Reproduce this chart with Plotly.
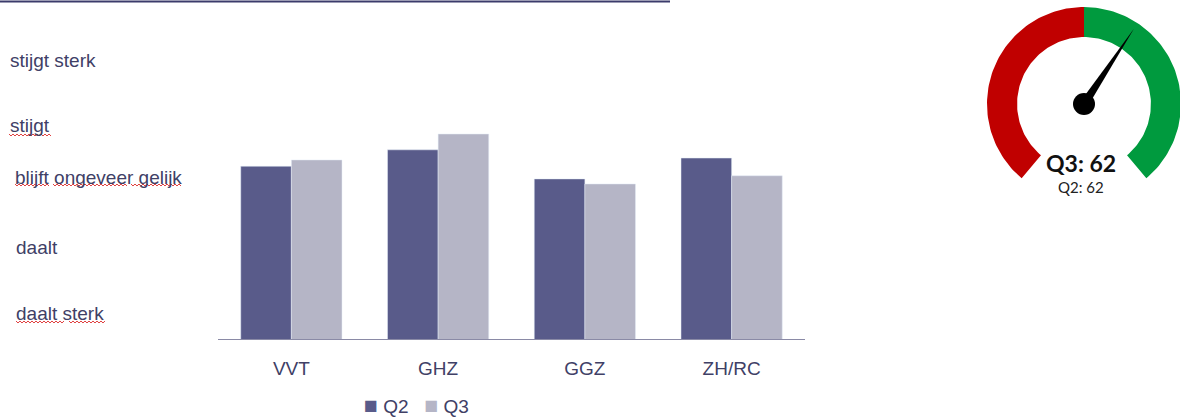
import math
import plotly.graph_objects as go

# ---------------- data ----------------
categories = ["VVT", "GHZ", "GGZ", "ZH/RC"]
q2_values = [3.32, 3.58, 3.12, 3.45]
q3_values = [3.42, 3.83, 3.04, 3.17]
series_names = ["Q2", "Q3"]
scale_labels = ["stijgt sterk", "stijgt", "blijft ongeveer gelijk", "daalt", "daalt sterk"]
scale_levels = [5.0, 3.96, 3.15, 2.04, 1.0]
gauge_q3 = 62
gauge_q2 = 62
gauge_min, gauge_max, gauge_mid = 0, 100, 50

# ---------------- styles ----------------
W, H = 1180, 417
C_Q2 = "#595B8A"
C_Q3 = "#B5B5C6"
C_TEXT = "#404066"
FONT = "Arial, Liberation Sans, sans-serif"


def px_x(px):
    return px / W


def px_y(py):
    return 1 - py / H


fig = go.Figure()
for name, vals, col in zip(series_names, [q2_values, q3_values], [C_Q2, C_Q3]):
    fig.add_trace(go.Bar(x=categories, y=vals, name=name, marker_color=col,
                         xaxis="x", yaxis="y", showlegend=False))

# ---------------- gauge ----------------
START_ANG, END_ANG = 230.0, -50.0
R_OUT, R_IN = 1.0, 0.69


def val2ang(v):
    return START_ANG + (v - gauge_min) / (gauge_max - gauge_min) * (END_ANG - START_ANG)


def arc_poly(a0, a1, n=80):
    xs, ys = [], []
    for i in range(n + 1):
        a = math.radians(a0 + (a1 - a0) * i / n)
        xs.append(R_OUT * math.cos(a)); ys.append(R_OUT * math.sin(a))
    for i in range(n + 1):
        a = math.radians(a1 + (a0 - a1) * i / n)
        xs.append(R_IN * math.cos(a)); ys.append(R_IN * math.sin(a))
    xs.append(xs[0]); ys.append(ys[0])
    return xs, ys


for (v0, v1, col) in [(gauge_min, gauge_mid, "#C00000"), (gauge_mid, gauge_max, "#009A3E")]:
    xs, ys = arc_poly(val2ang(v0), val2ang(v1))
    fig.add_trace(go.Scatter(x=xs, y=ys, fill="toself", fillcolor=col, mode="lines",
                             line=dict(width=0, color=col), xaxis="x2", yaxis="y2",
                             showlegend=False, hoverinfo="skip"))

na = math.radians(val2ang(gauge_q3))
nl, nw = 0.93, 0.045
tip = (nl * math.cos(na), nl * math.sin(na))
b1 = (nw * math.cos(na + math.pi / 2), nw * math.sin(na + math.pi / 2))
b2 = (nw * math.cos(na - math.pi / 2), nw * math.sin(na - math.pi / 2))
fig.add_trace(go.Scatter(x=[b1[0], tip[0], b2[0], b1[0]], y=[b1[1], tip[1], b2[1], b1[1]],
                         fill="toself", fillcolor="black", mode="lines",
                         line=dict(width=0, color="black"), xaxis="x2", yaxis="y2",
                         showlegend=False, hoverinfo="skip"))
fig.add_trace(go.Scatter(x=[0], y=[0], mode="markers", marker=dict(size=22, color="black"),
                         xaxis="x2", yaxis="y2", showlegend=False, hoverinfo="skip"))

# ---------------- layout ----------------
plot_l, plot_r, plot_t, plot_b = 218, 805, 20, 339
y_base = 1 - (339 - 313) / 63.25
y_top = y_base + (plot_b - plot_t) / 63.25

g_l, g_r, g_t, g_b = 980, 1180, 0, 200
g_cx, g_cy, g_rpx = 1084, 104, 97

annotations = []
label_x = [8, 8, 13, 14, 14]
for txt, lvl, lx in zip(scale_labels, scale_levels, label_x):
    annotations.append(dict(text=txt, x=px_x(lx), xref="paper", xanchor="left",
                            y=lvl, yref="y", yanchor="middle", showarrow=False,
                            font=dict(family=FONT, size=19, color=C_TEXT)))

# legend drawn as text
legend_txt = "   ".join(
    f"<span style='color:{c};font-size:23px'>■</span> {n}" for n, c in zip(series_names, [C_Q2, C_Q3]))
annotations.append(dict(text=legend_txt, x=px_x(416), xref="paper", xanchor="center",
                        y=px_y(405), yref="paper", yanchor="middle", showarrow=False,
                        font=dict(family=FONT, size=19, color=C_TEXT)))

annotations.append(dict(text=f"<b>Q3: {gauge_q3}</b>", x=-0.03, xref="x2", y=-(163 - g_cy) / g_rpx,
                        yref="y2", showarrow=False, xanchor="center", yanchor="middle",
                        font=dict(family="Lato, Open Sans, sans-serif", size=23, color="#111111")))
annotations.append(dict(text=f"Q2: {gauge_q2}", x=-0.03, xref="x2", y=-(187 - g_cy) / g_rpx,
                        yref="y2", showarrow=False, xanchor="center", yanchor="middle",
                        font=dict(family="Lato, Open Sans, sans-serif", size=15, color="#222222")))


def squiggle(x0, x1, y):
    pts = []
    x = x0
    up = True
    while x <= x1:
        pts.append((x, y - 1 if up else y + 1))
        up = not up
        x += 2
    d = "M " + " L ".join(f"{px_x(a):.5f},{px_y(b):.5f}" for a, b in pts)
    return dict(type="path", path=d, xref="paper", yref="paper",
                line=dict(color="#E04040", width=1))


shapes = [
    dict(type="line", xref="paper", yref="paper", x0=0, x1=px_x(670),
         y0=px_y(1.5), y1=px_y(1.5), line=dict(color="#3B3B6B", width=2)),
    squiggle(9, 52, 135),
    squiggle(15, 50, 185), squiggle(53, 127, 185), squiggle(131, 182, 185),
    squiggle(16, 64, 322), squiggle(69, 105, 322),
]

fig.update_layout(
    width=W, height=H,
    margin=dict(l=0, r=0, t=0, b=0, pad=0),
    paper_bgcolor="white", plot_bgcolor="white",
    barmode="group", bargap=0.31, bargroupgap=0,
    xaxis=dict(domain=[px_x(plot_l), px_x(plot_r)], anchor="y", showline=True,
               linecolor="#8A8AA6", linewidth=1, showgrid=False, zeroline=False,
               ticks="", ticklabelstandoff=12,
               tickfont=dict(family=FONT, size=19, color=C_TEXT)),
    yaxis=dict(domain=[px_y(plot_b), px_y(plot_t)], anchor="x", range=[y_base, y_top],
               visible=False, showgrid=False, zeroline=False),
    xaxis2=dict(domain=[px_x(g_l), px_x(g_r)], anchor="y2",
                range=[-(g_cx - g_l) / g_rpx, (g_r - g_cx) / g_rpx], visible=False),
    yaxis2=dict(domain=[px_y(g_b), px_y(g_t)], anchor="x2",
                range=[-(g_b - g_cy) / g_rpx, (g_cy - g_t) / g_rpx], visible=False),
    showlegend=False,
    annotations=annotations,
    shapes=shapes,
)

fig.write_html("out.html", config={"displayModeBar": False},
               post_script="document.body.style.margin='0';")
